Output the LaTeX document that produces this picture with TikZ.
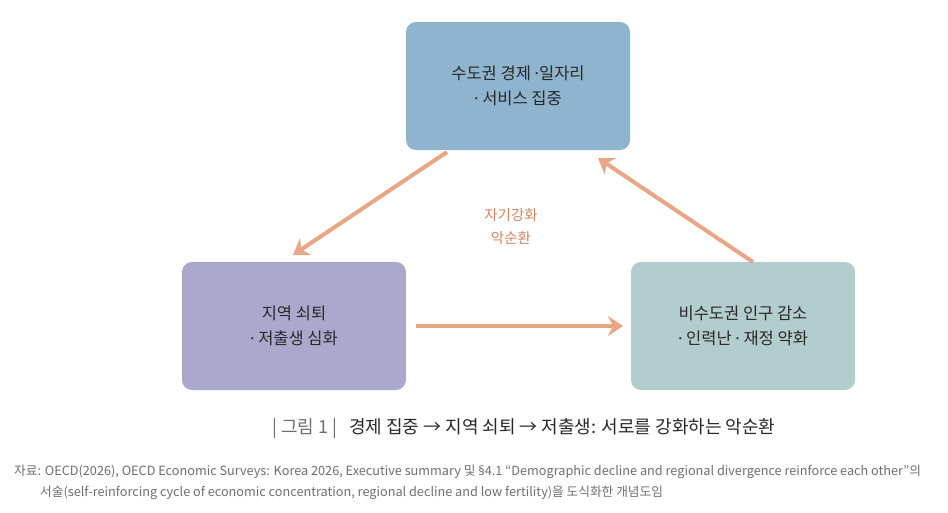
\documentclass[tikz,border=0pt]{standalone}
\usepackage{fontspec}
\setmainfont{Noto Sans CJK KR}
\newfontfamily\kr{Noto Sans CJK KR}
\newfontfamily\lat{Noto Sans}
\newcommand{\md}{{\lat ·}}
\usetikzlibrary{arrows.meta}
\definecolor{topc}{RGB}{143,181,206}
\definecolor{leftc}{RGB}{172,168,205}
\definecolor{rightc}{RGB}{179,204,205}
\definecolor{arrc}{RGB}{233,166,132}
\definecolor{midc}{RGB}{214,132,96}
\definecolor{txtc}{RGB}{40,40,40}
\definecolor{grayc}{RGB}{110,110,110}
\tikzset{
  box/.style={rounded corners=10pt, minimum width=224pt, minimum height=128pt, inner sep=0pt,
    align=center, text=txtc, font=\kr\fontsize{16.5pt}{25pt}\selectfont},
  conn/.style={draw=arrc, line width=4pt, -{Stealth[length=15pt,width=20pt,inset=5pt]}},
  src/.style={anchor=west, inner sep=0pt, text=grayc, font=\kr\fontsize{12.7pt}{15pt}\selectfont},
}
\begin{document}
\begin{tikzpicture}[x=1pt,y=-1pt]
\useasboundingbox (0,0) rectangle (948,512);
\node[box, fill=topc] (top) at (518,86) {수도권 경제 \md 일자리\\\md\ 서비스 집중};
\node[box, fill=leftc] (left) at (294,326) {지역 쇠퇴\\\md\ 저출생 심화};
\node[box, fill=rightc] (right) at (743,326) {비수도권 인구 감소\\\md\ 인력난 \md\ 재정 약화};
\coordinate (a1s) at (447,152);
\coordinate (a1e) at (293,255);
\coordinate (a2s) at (416,326);
\coordinate (a2e) at (623,326);
\coordinate (a3s) at (753,262);
\coordinate (a3e) at (598,158);
\draw[conn] (a1s) -- (a1e);
\draw[conn] (a2s) -- (a2e);
\draw[conn] (a3s) -- (a3e);
\node[align=center, text=midc, font=\kr\fontsize{14.5pt}{23pt}\selectfont] (mid) at (511,227) {자기강화\\악순환};
\node[anchor=west, inner sep=0pt, font=\kr\fontsize{18pt}{22pt}\selectfont] (cap) at (272,428)
  {\textcolor{grayc}{| 그림 1 |}\hspace{12pt}\textcolor{txtc}{경제 집중 → 지역 쇠퇴 → 저출생: 서로를 강화하는 악순환}};
\node[src] (src1) at (14,472)
  {자료: OECD(2026), OECD Economic Surveys: Korea 2026, Executive summary 및 {\lat §}4.1 “Demographic decline and regional divergence reinforce each other”의};
\node[src] (src2) at (40,493)
  {서술(self-reinforcing cycle of economic concentration, regional decline and low fertility)을 도식화한 개념도임};
\end{tikzpicture}
\end{document}
